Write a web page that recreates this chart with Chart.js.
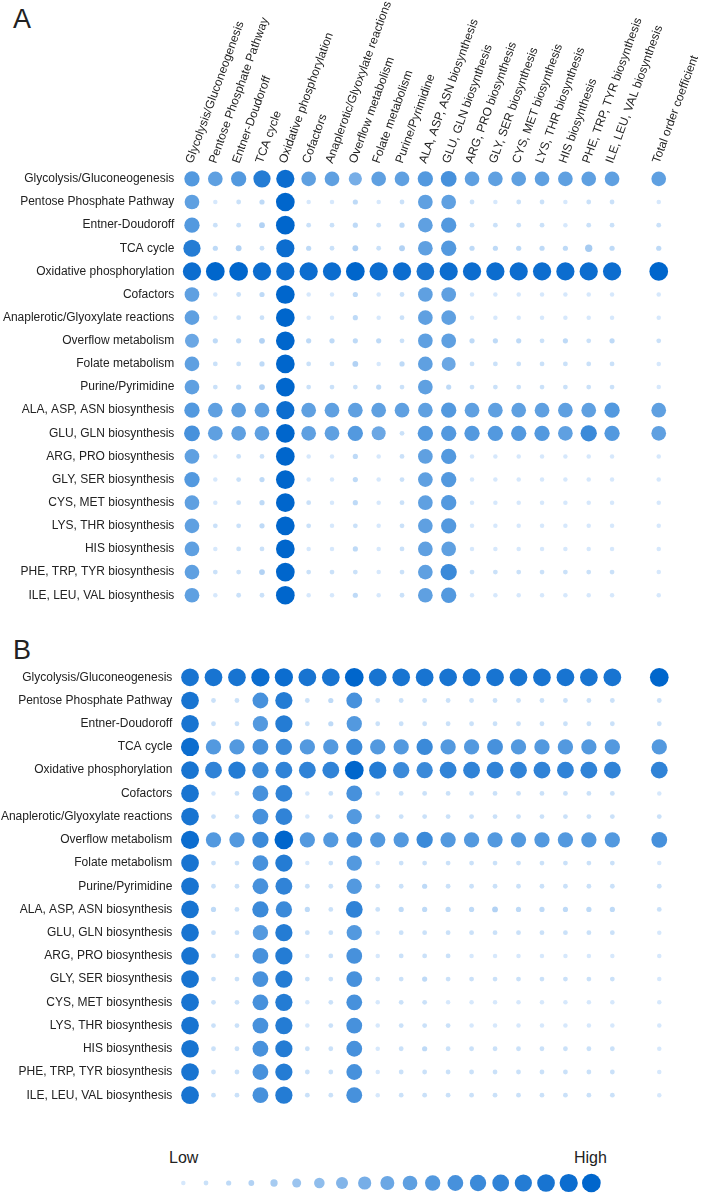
<!DOCTYPE html>
<html>
<head>
<meta charset="utf-8">
<script src="https://cdn.jsdelivr.net/npm/chart.js@4.4.1/dist/chart.umd.min.js"></script>
<style>
  body { margin: 0; background: #fff; width: 703px; height: 1193px; position: relative; overflow: hidden;
         font-family: "Liberation Sans", Arial, sans-serif; color: #222; }
  .tag { position: absolute; left: 13px; font-size: 27px; line-height: 27px; }
  .wrap { position: absolute; left: 0; }
  .end { position: absolute; top: 1150px; font-size: 16px; line-height: 16px; }
</style>
</head>
<body>
<div class="tag" style="top:6px">A</div>
<div class="tag" style="top:637px">B</div>
<div class="wrap" style="top:0;width:703px;height:620px"><canvas id="chartA" width="703" height="620"></canvas></div>
<div class="wrap" style="top:640px;width:703px;height:480px"><canvas id="chartB" width="703" height="480"></canvas></div>
<div class="end" style="left:169px">Low</div>
<div class="end" style="left:574px">High</div>
<div class="wrap" style="top:1168px;width:703px;height:30px"><canvas id="legend" width="703" height="30"></canvas></div>

<script>
// pathways (rows, and the first 19 columns)
const PATHWAYS = [
  'Glycolysis/Gluconeogenesis', 'Pentose Phosphate Pathway', 'Entner-Doudoroff', 'TCA cycle',
  'Oxidative phosphorylation', 'Cofactors', 'Anaplerotic/Glyoxylate reactions', 'Overflow metabolism',
  'Folate metabolism', 'Purine/Pyrimidine', 'ALA, ASP, ASN biosynthesis', 'GLU, GLN biosynthesis',
  'ARG, PRO biosynthesis', 'GLY, SER biosynthesis', 'CYS, MET biosynthesis', 'LYS, THR biosynthesis',
  'HIS biosynthesis', 'PHE, TRP, TYR biosynthesis', 'ILE, LEU, VAL biosynthesis'
];
const TOTAL_LABEL = 'Total order coefficient';
// empty slot leaves the gap before the total column
const COLUMNS = [...PATHWAYS, '', TOTAL_LABEL];

// levels 0 (low) .. 18 (high), one row per pathway: 19 pathway columns + total
const panelA = [
  [11,10,11,15,17,10,10, 8,10,10,11,12,10,10,10,10,10,10,10,10],
  [10, 0, 1, 2,18, 0, 0, 2, 0, 1,10,10, 1, 0, 1, 1, 0, 1, 1, 0],
  [11, 1, 1, 3,18, 1, 1, 2, 1, 2,10,11, 1, 1, 1, 1, 0, 1, 1, 1],
  [15, 2, 3, 1,17, 2, 1, 3, 1, 3,10,11, 2, 2, 2, 2, 2, 4, 2, 2],
  [17,18,18,17,17,17,17,18,17,17,16,17,17,17,17,17,17,17,17,18],
  [10, 0, 1, 2,18, 0, 0, 2, 0, 1,10,10, 0, 0, 0, 0, 0, 0, 0, 0],
  [10, 0, 1, 1,18, 0, 0, 2, 0, 1,10,10, 0, 0, 0, 0, 0, 0, 0, 0],
  [ 9, 2, 2, 3,18, 2, 2, 2, 2, 1,10,10, 2, 2, 2, 1, 2, 1, 2, 1],
  [10, 1, 1, 2,18, 1, 1, 3, 0, 2,10, 9, 1, 1, 1, 1, 1, 1, 1, 0],
  [10, 1, 2, 3,18, 1, 1, 1, 2, 1,10, 2, 1, 1, 1, 1, 1, 1, 1, 0],
  [11,10,10,10,17,10,10,10,10,10,10,11,10,10,10,10,10,10,11,10],
  [12,10,10,10,18,10,10,11, 9, 1,11,11,11,11,11,11,10,13,11,10],
  [10, 0, 1, 1,18, 0, 0, 2, 0, 1,10,11, 0, 0, 0, 0, 0, 0, 0, 0],
  [11, 0, 1, 2,18, 0, 0, 2, 0, 1,10,11, 0, 0, 0, 0, 0, 0, 0, 0],
  [10, 0, 1, 2,18, 1, 0, 2, 0, 1,10,11, 0, 0, 0, 0, 0, 0, 0, 0],
  [10, 1, 1, 2,18, 1, 0, 1, 0, 1,10,11, 0, 0, 0, 0, 0, 0, 0, 0],
  [10, 0, 1, 1,18, 0, 0, 2, 0, 1,10,10, 0, 0, 0, 0, 0, 0, 0, 0],
  [10, 1, 1, 3,18, 1, 1, 1, 0, 1,10,13, 1, 1, 1, 1, 1, 1, 1, 0],
  [10, 0, 1, 1,18, 0, 0, 2, 0, 1,10,11, 0, 0, 0, 0, 0, 0, 0, 0]
];

const panelB = [
  [16,16,16,17,17,16,16,18,16,16,16,16,16,16,16,16,16,16,16,18],
  [16, 1, 1,12,15, 1, 2,12, 1, 1, 1, 1, 1, 1, 1, 1, 1, 1, 1, 1],
  [16, 1, 1,11,15, 1, 2,11, 1, 1, 1, 1, 1, 1, 1, 1, 1, 1, 1, 1],
  [17,11,11,12,13,11,11,13,11,11,13,11,11,12,11,11,11,11,11,11],
  [16,14,15,13,14,14,14,18,15,13,13,14,14,14,14,14,14,14,14,14],
  [16, 0, 1,12,14, 0, 1,12, 0, 1, 1, 1, 1, 1, 1, 1, 1, 1, 1, 0],
  [16, 1, 1,12,14, 0, 1,11, 1, 1, 1, 1, 1, 1, 1, 1, 1, 1, 1, 1],
  [17,11,11,13,18,11,11,12,11,11,13,11,11,11,11,11,11,11,11,12],
  [16, 1, 1,12,15, 0, 1,11, 0, 1, 1, 1, 1, 1, 1, 1, 1, 1, 1, 0],
  [16, 1, 1,12,14, 1, 1,11, 1, 1, 2, 1, 1, 1, 1, 1, 1, 1, 1, 1],
  [16, 2, 1,13,13, 2, 1,14, 1, 2, 2, 2, 2, 3, 2, 2, 2, 2, 2, 1],
  [16, 1, 1,11,15, 1, 1,11, 0, 1, 1, 1, 1, 1, 1, 1, 1, 1, 1, 0],
  [16, 1, 1,12,15, 0, 1,12, 0, 1, 1, 1, 0, 0, 0, 0, 0, 0, 0, 0],
  [16, 1, 1,12,15, 1, 1,12, 1, 1, 2, 1, 1, 1, 1, 1, 1, 1, 1, 0],
  [16, 1, 1,12,15, 0, 1,12, 0, 1, 1, 0, 0, 0, 0, 0, 0, 0, 0, 0],
  [16, 1, 1,12,15, 0, 1,12, 0, 1, 1, 1, 0, 0, 0, 0, 0, 0, 0, 0],
  [16, 1, 1,12,15, 1, 1,12, 0, 1, 2, 1, 1, 1, 1, 1, 1, 1, 1, 0],
  [16, 1, 1,12,15, 1, 1,12, 0, 1, 1, 1, 1, 1, 1, 1, 1, 1, 1, 0],
  [16, 1, 1,12,15, 1, 1,12, 0, 1, 1, 1, 1, 1, 1, 1, 1, 1, 1, 0]
];

// legend: one dot per level, Low -> High
const LEGEND_LEVELS = [0,1,2,3,4,5,6,7,8,9,10,11,12,13,14,15,16,17,18];

// level -> dot diameter (px) and colour
const DIAMETERS = [4.5,4.8,5.2,5.8,7.3,9,10.6,12,13.2,14,14.7,15.3,15.8,16.3,16.8,17.2,17.7,18.2,18.7];
const LOW_RGB = [214, 232, 252];
const HIGH_RGB = [0, 102, 204];

function colourFor(v) {
  const t = v / 18;
  const c = LOW_RGB.map((lo, i) => Math.round(lo + (HIGH_RGB[i] - lo) * t));
  return `rgb(${c[0]},${c[1]},${c[2]})`;
}
function radiusFor(v) { return DIAMETERS[v] / 2; }

function toPoints(matrix) {
  const pts = [];
  matrix.forEach((row, i) => {
    row.forEach((v, j) => {
      pts.push({ x: j < PATHWAYS.length ? PATHWAYS[j] : TOTAL_LABEL, y: PATHWAYS[i], r: radiusFor(v), v });
    });
  });
  return pts;
}

Chart.defaults.font.family = '"Liberation Sans", Arial, sans-serif';
Chart.defaults.font.size = 12;
Chart.defaults.color = '#222';

const noGrid = { display: false, drawTicks: false };

function matrixChart(id, matrix, opts) {
  return new Chart(document.getElementById(id), {
    type: 'bubble',
    data: {
      datasets: [{
        data: toPoints(matrix),
        backgroundColor: ctx => colourFor(ctx.raw.v),
        borderWidth: 0,
        clip: false
      }]
    },
    options: {
      responsive: false,
      animation: false,
      events: [],
      layout: { padding: opts.padding },
      plugins: { legend: { display: false }, tooltip: { enabled: false } },
      scales: {
        x: {
          type: 'category', position: 'top', labels: COLUMNS, offset: true,
          display: opts.showColumns,
          grid: noGrid, border: { display: false },
          ticks: { autoSkip: false, minRotation: 70, maxRotation: 70, padding: 2, labelOffset: 11 },
          afterFit(s) { s.height = opts.top; }
        },
        y: {
          type: 'category', labels: PATHWAYS, offset: true,
          grid: noGrid, border: { display: false },
          ticks: { autoSkip: false, padding: 6 },
          afterFit(s) { s.width = opts.left; }
        }
      }
    }
  });
}

matrixChart('chartA', panelA, { showColumns: true, top: 167.3, left: 180.3, padding: { left: 0, right: 32.6, top: 0, bottom: 9.3 } });
matrixChart('chartB', panelB, { showColumns: false, top: 0, left: 178.3, padding: { left: 0, right: 32, top: 25.7, bottom: 11 } });

// legend strip
new Chart(document.getElementById('legend'), {
  type: 'bubble',
  data: {
    datasets: [{
      data: LEGEND_LEVELS.map((v, i) => ({ x: i, y: 0.5, r: radiusFor(v), v })),
      backgroundColor: ctx => colourFor(ctx.raw.v),
      borderWidth: 0,
      clip: false
    }]
  },
  options: {
    responsive: false,
    animation: false,
    events: [],
    layout: { padding: { left: 172, right: 100.3, top: 0, bottom: 0 } },
    plugins: { legend: { display: false }, tooltip: { enabled: false } },
    scales: {
      x: { type: 'linear', min: -0.5, max: LEGEND_LEVELS.length - 0.5, display: false },
      y: { type: 'linear', min: 0, max: 1, display: false }
    }
  }
});
</script>
</body>
</html>
